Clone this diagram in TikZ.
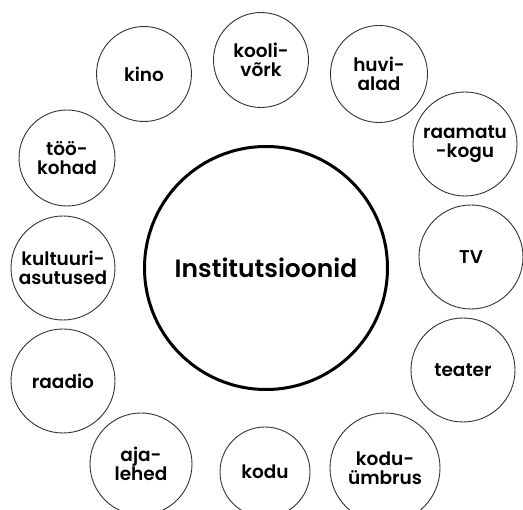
\documentclass[tikz,border=0pt]{standalone}
\usepackage{fontspec}
\setmainfont{Poppins}[BoldFont={* SemiBold}]
\begin{document}
\begin{tikzpicture}[x=1pt,y=-1pt,
  small/.style={circle,draw=black!80,line width=0.9pt,inner sep=0pt,align=center,
    font=\bfseries\fontsize{18.5}{18.5}\selectfont},
  big/.style={circle,draw=black,line width=3pt,inner sep=0pt,align=center,
    font=\bfseries\fontsize{25}{28}\selectfont}]
\useasboundingbox (0,0) rectangle (523,510);
\node[big,minimum size=243pt] (inst) at (266,268) {Institutsioonid};
\node[small,minimum size=95pt] (kino) at (144,74) {kino};
\node[small,minimum size=95pt] (kool) at (261,60) {kooli-\\võrk};
\node[small,minimum size=97pt] (huvi) at (379,74) {huvi-\\alad};
\node[small,minimum size=104pt] (raam) at (465,144) {raamatu\\-kogu};
\node[small,minimum size=104pt] (tv) at (471,257) {TV};
\node[small,minimum size=104pt] (teat) at (463,370) {teater};
\node[small,minimum size=110pt] (ymbr) at (385,468) {kodu-\\ümbrus};
\node[small,minimum size=90pt] (kodu) at (265,472) {kodu};
\node[small,minimum size=102pt] (aja) at (141,464) {aja-\\lehed};
\node[small,minimum size=104pt] (raad) at (63,381) {raadio};
\node[small,minimum size=104pt] (kult) at (63,268) {kultuuri-\\asutused};
\node[small,minimum size=96pt] (too) at (67,158) {töö-\\kohad};
\end{tikzpicture}
\end{document}
